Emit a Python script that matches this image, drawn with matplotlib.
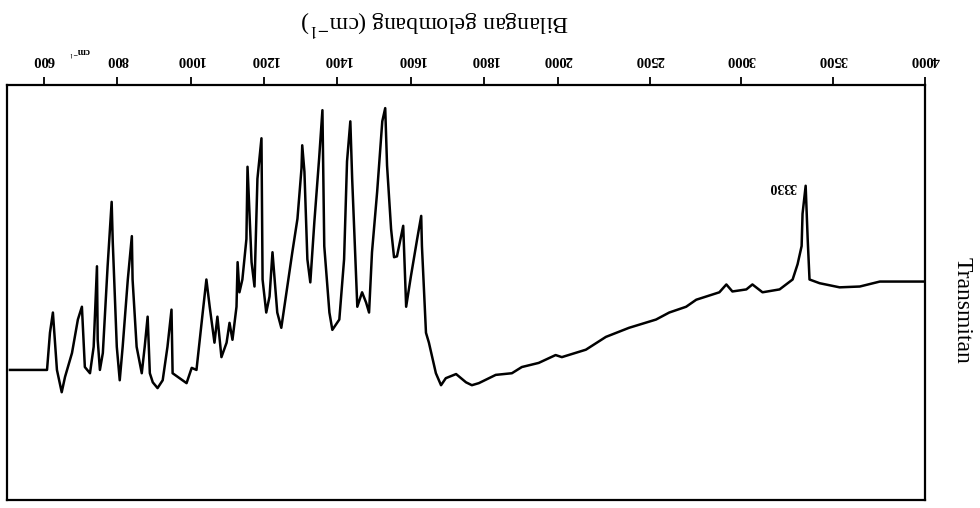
import numpy as np
import matplotlib
matplotlib.use("Agg")
import matplotlib.pyplot as plt

wavenumber = [4000, 3754, 3645, 3535, 3426, 3371, 3361, 3350, 3333, 3328, 3306,
              3279, 3208, 3115, 3060, 3027, 2951, 2918, 2880, 2754, 2699, 2607,
              2535, 2388, 2262, 2153, 2022, 1994, 1948, 1902, 1875, 1831, 1785,
              1766, 1750, 1723, 1695, 1682, 1668, 1649, 1641, 1630, 1628, 1617,
              1600, 1587, 1579, 1562, 1554, 1546, 1535, 1530, 1522, 1508, 1494,
              1486, 1478, 1467, 1454, 1440, 1435, 1426, 1418, 1405, 1386, 1378,
              1364, 1359, 1350, 1337, 1326, 1318, 1310, 1304, 1302, 1291, 1277,
              1269, 1261, 1247, 1236, 1223, 1215, 1206, 1196, 1193, 1182, 1174,
              1166, 1155, 1152, 1141, 1133, 1128, 1125, 1114, 1106, 1098, 1084,
              1073, 1065, 1052, 1043, 1033, 1016, 1003, 989, 970, 951, 948, 937,
              924, 910, 897, 889, 883, 875, 867, 853, 842, 840, 829, 815, 807,
              799, 788, 785, 774, 761, 753, 747, 745, 736, 726, 712, 704, 693,
              677, 658, 649, 636, 625, 617, 609, 508]
transmittance = [47.6, 47.6, 48.8, 49.0, 48.0, 47.1, 37.3, 24.4, 31.2, 39.0, 43.4,
                 47.1, 49.5, 50.2, 48.3, 49.5, 50.0, 48.3, 50.2, 52.0, 53.7, 55.1,
                 56.8, 58.8, 61.0, 64.1, 65.9, 65.4, 67.3, 68.3, 69.8, 70.2, 72.2,
                 72.7, 72.0, 70.0, 71.0, 72.7, 69.8, 62.4, 60.0, 39.0, 31.7, 37.3,
                 46.3, 53.7, 34.1, 41.5, 41.7, 34.9, 19.5, 5.6, 8.8, 25.9, 40.5,
                 55.1, 52.7, 50.2, 53.7, 22.7, 8.8, 18.5, 42.2, 56.8, 59.3, 55.1,
                 39.0, 6.1, 17.8, 33.2, 47.8, 42.2, 21.0, 14.6, 20.2, 32.4, 40.5,
                 45.4, 50.2, 58.8, 55.1, 40.5, 51.2, 55.1, 47.1, 12.9, 22.7, 48.8,
                 42.9, 19.8, 37.3, 47.1, 50.2, 42.9, 53.7, 61.7, 57.6, 62.4, 65.9,
                 56.1, 62.4, 53.7, 47.1, 55.1, 69.0, 68.5, 72.2, 71.0, 69.8, 54.4, 63.4,
                 71.5, 73.4, 72.0, 69.8, 56.1, 63.4, 69.8, 63.4, 47.1, 36.6, 47.1, 63.4, 71.5,
                 63.4, 38.0, 28.3, 43.9, 64.9, 69.0, 61.7, 43.9, 63.4, 69.8, 68.3, 53.7, 56.8,
                 64.9, 70.7, 74.4, 69.0, 55.1, 60.0, 69.0, 69.0]

tick_values = [600, 800, 1000, 1200, 1400, 1600, 1800, 2000, 2500, 3000, 3500, 4000]
tick_labels = [str(t) for t in tick_values]


# spectrometer chart paper: 2x expanded scale below 2000 cm-1
def forward(w):
    w = np.asarray(w, dtype=float)
    return np.where(w <= 2000, 2 * (w - 500), 3000 + (w - 2000))


def inverse(p):
    p = np.asarray(p, dtype=float)
    return np.where(p <= 3000, p / 2 + 500, p - 3000 + 2000)


serif = ["Liberation Serif", "DejaVu Serif"]
plt.rcParams["mathtext.fontset"] = "stix"

fig = plt.figure(figsize=(9.8, 5.08), dpi=100)
ax = fig.add_axes([7 / 980, 8 / 508, 918 / 980, 415 / 508])

ax.plot(wavenumber, transmittance, color="black", lw=1.8)

ax.set_xscale("function", functions=(forward, inverse))
ax.set_xlim(500, 4000)
ax.set_ylim(100.5, 0)  # whole scan is upside down

ax.xaxis.tick_top()
ax.set_xticks(tick_values)
ax.set_xticklabels(tick_labels, rotation=180, fontsize=10.5, fontweight="bold",
                   family=serif)
ax.tick_params(axis="x", direction="out", length=6, width=1.3, pad=8)
ax.set_yticks([])
ax.xaxis.set_minor_locator(matplotlib.ticker.NullLocator())

for s in ax.spines.values():
    s.set_linewidth(1.6)
    s.set_color("black")

ax.text(3225, 24.5, "3330", rotation=180, fontsize=10, fontweight="bold",
        family=serif, ha="center", va="center")

fig.text(435 / 980, 1 - 22 / 508, "Bilangan gelombang (cm$^{-1}$)", rotation=180,
         fontsize=17, family=serif, ha="center", va="center")
fig.text(80 / 980, 1 - 52 / 508, "cm$^{-1}$", rotation=180, fontsize=7,
         fontweight="bold", family=serif, ha="center", va="center")
fig.text(962 / 980, 1 - 310 / 508, "Transmitan", rotation=270, fontsize=17,
         family=serif, ha="center", va="center")

fig.savefig("out.png", dpi=100)
